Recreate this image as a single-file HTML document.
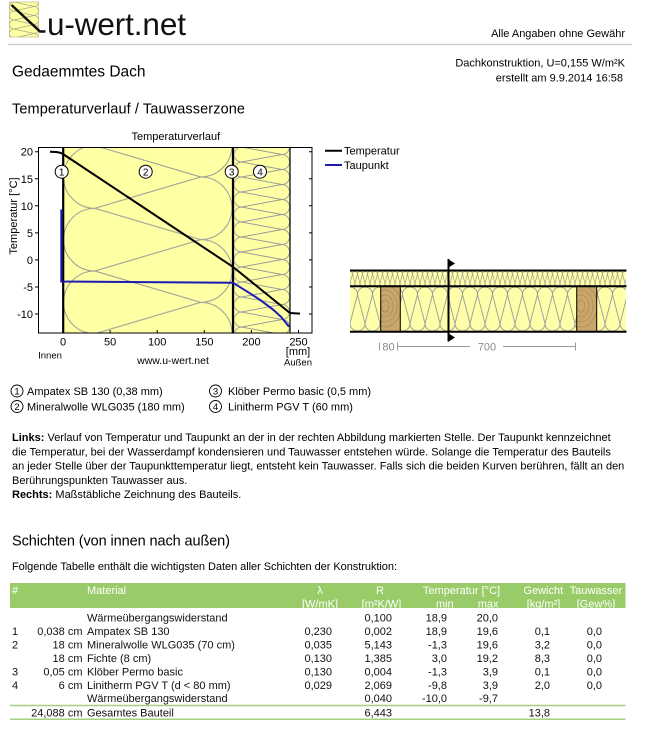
<!DOCTYPE html>
<html><head><meta charset="utf-8"><style>
html,body{margin:0;padding:0;background:#fff;}
svg{display:block;}
text{font-family:"Liberation Sans",Arial,sans-serif;}
</style></head><body>
<svg width="656" height="738" viewBox="0 0 656 738" xmlns="http://www.w3.org/2000/svg">
<defs>
<pattern id="pA" patternUnits="userSpaceOnUse" x="63.5" y="145.6" width="168.5" height="62.7">
<path d="M31.35,0 A31.35,31.35 0 0 0 31.35,62.7 M137.15,-31.35 A31.35,31.35 0 0 1 137.15,31.35 M137.15,31.35 A31.35,31.35 0 0 1 137.15,94.05 M31.35,0 L137.15,31.35 M31.35,62.7 L137.15,31.35" fill="none" stroke="#9a9a9a" stroke-width="1"/>
</pattern>
<pattern id="pB" patternUnits="userSpaceOnUse" x="234.2" y="147" width="55.3" height="15">
<path d="M7.5,0 A7.5,7.5 0 0 0 7.5,15 M47.8,-7.5 A7.5,7.5 0 0 1 47.8,7.5 M47.8,7.5 A7.5,7.5 0 0 1 47.8,22.5 M7.5,0 L47.8,7.5 M7.5,15 L47.8,7.5" fill="none" stroke="#9a9a9a" stroke-width="0.9"/>
</pattern>
<pattern id="pC" patternUnits="userSpaceOnUse" x="350" y="287" width="15" height="44">
<path d="M0,36.5 A7.5,7.5 0 0 0 15,36.5 M-7.5,7.5 A7.5,7.5 0 0 1 7.5,7.5 M7.5,7.5 A7.5,7.5 0 0 1 22.5,7.5 M0,36.5 L7.5,7.5 M15,36.5 L7.5,7.5" fill="none" stroke="#999" stroke-width="0.9"/>
</pattern>
<pattern id="pD" patternUnits="userSpaceOnUse" x="350" y="271.5" width="5" height="14.5">
<path d="M0,12 A2.5,2.5 0 0 0 5,12 M-2.5,2.5 A2.5,2.5 0 0 1 2.5,2.5 M2.5,2.5 A2.5,2.5 0 0 1 7.5,2.5 M0,12 L2.5,2.5 M5,12 L2.5,2.5" fill="none" stroke="#a0a090" stroke-width="0.7"/>
</pattern>
<pattern id="pI" patternUnits="userSpaceOnUse" x="9.5" y="2" width="29" height="9">
<path d="M4.5,0 A4.5,4.5 0 0 0 4.5,9 M24.5,-4.5 A4.5,4.5 0 0 1 24.5,4.5 M24.5,4.5 A4.5,4.5 0 0 1 24.5,13.5 M4.5,0 L24.5,4.5 M4.5,9 L24.5,4.5" fill="none" stroke="#a8a890" stroke-width="0.7"/>
</pattern>
<clipPath id="cw1"><rect x="380.7" y="287" width="19.6" height="44"/></clipPath>
<clipPath id="cw2"><rect x="576.7" y="287" width="20" height="44"/></clipPath>
</defs>

<!-- Header -->
<rect x="9.5" y="2" width="29" height="35" fill="#FFFFA4" stroke="#c8c890" stroke-width="0.8"/>
<rect x="9.5" y="2" width="29" height="35" fill="url(#pI)"/>
<path d="M11.5,5 L40,31.5 L45.5,31.5" fill="none" stroke="#111" stroke-width="2.5"/>
<text x="47" y="35" font-size="31.5" fill="#111" textLength="139">u-wert.net</text>
<text x="625" y="37" font-size="11" text-anchor="end">Alle Angaben ohne Gewähr</text>
<line x1="8" y1="44.5" x2="632" y2="44.5" stroke="#cfcfcf" stroke-width="1.5"/>
<text x="12" y="76.5" font-size="15.5">Gedaemmtes Dach</text>
<text x="625" y="66.5" font-size="11" text-anchor="end">Dachkonstruktion, U=0,155 W/m²K</text>
<text x="623" y="81.5" font-size="11" text-anchor="end">erstellt am 9.9.2014 16:58</text>
<text x="12" y="113.5" font-size="14.5" textLength="233">Temperaturverlauf / Tauwasserzone</text>

<!-- Chart -->
<text x="175.8" y="140" font-size="11" text-anchor="middle">Temperaturverlauf</text>
<rect x="63" y="147.5" width="227" height="185.5" fill="#FFFFA4"/>
<rect x="63.5" y="147.5" width="168.5" height="185.5" fill="url(#pA)"/>
<rect x="234.2" y="147.5" width="55.3" height="185.5" fill="url(#pB)"/>
<line x1="63.2" y1="147.5" x2="63.2" y2="333" stroke="#000" stroke-width="2.2"/>
<line x1="233" y1="147.5" x2="233" y2="333" stroke="#000" stroke-width="2.2"/>
<line x1="290" y1="147.5" x2="290" y2="333" stroke="#000" stroke-width="1.2"/>
<rect x="38.5" y="147.5" width="273.5" height="185.5" fill="none" stroke="#000" stroke-width="1"/>
<!-- ticks -->
<g stroke="#000" stroke-width="1">
<path d="M35,151.7H38.5M35,178.75H38.5M35,205.8H38.5M35,232.85H38.5M35,259.9H38.5M35,286.95H38.5M35,314H38.5"/>
<path d="M309,151.7H312M309,178.75H312M309,205.8H312M309,232.85H312M309,259.9H312M309,286.95H312M309,314H312"/>
<path d="M110.1,330V333M157.2,330V333M204.3,330V333M251.4,330V333M298.5,330V333"/>
</g>
<g font-size="11" text-anchor="end">
<text x="33" y="155.7">20</text>
<text x="33" y="182.75">15</text>
<text x="33" y="209.8">10</text>
<text x="33" y="236.85">5</text>
<text x="33" y="263.9">0</text>
<text x="33" y="290.95">-5</text>
<text x="33" y="318">-10</text>
</g>
<text transform="translate(17,216) rotate(-90)" font-size="11" text-anchor="middle">Temperatur [°C]</text>
<g font-size="11" text-anchor="middle">
<text x="63" y="345.5">0</text>
<text x="110.1" y="345.5">50</text>
<text x="157.2" y="345.5">100</text>
<text x="204.3" y="345.5">150</text>
<text x="251.4" y="345.5">200</text>
<text x="298.5" y="345.5">250</text>
<text x="298" y="355">[mm]</text>
</g>
<text x="298" y="365.5" font-size="9.5" text-anchor="middle">Außen</text>
<text x="50" y="358.5" font-size="9.5" text-anchor="middle">Innen</text>
<text x="173" y="364" font-size="10.5" text-anchor="middle">www.u-wert.net</text>
<!-- curves -->
<path d="M61.3,209.5 L61.3,281.5 L233,282.7 L246.7,291.3 L260,299.8 L273.3,309.8 L281,316.8 L289,326.7" fill="none" stroke="#1c1cb4" stroke-width="2"/>
<path d="M50,151.7 L56,152 Q61,152.6 63,154 L233,266.9 L290,313 L300,313.6" fill="none" stroke="#000" stroke-width="2"/>
<!-- layer labels -->
<g fill="#fff" stroke="#000" stroke-width="1">
<circle cx="61.7" cy="171.7" r="6.5"/>
<circle cx="145.7" cy="171.7" r="6.5"/>
<circle cx="231.7" cy="171.7" r="6.5"/>
<circle cx="260" cy="171.7" r="6.5"/>
</g>
<g font-size="10" text-anchor="middle">
<text x="61.7" y="175.3">1</text>
<text x="145.7" y="175.3">2</text>
<text x="231.7" y="175.3">3</text>
<text x="260" y="175.3">4</text>
</g>
<!-- legend -->
<line x1="325" y1="150.7" x2="342" y2="150.7" stroke="#000" stroke-width="2"/>
<line x1="325" y1="165" x2="342" y2="165" stroke="#1c1cb4" stroke-width="2"/>
<text x="344" y="154.7" font-size="11">Temperatur</text>
<text x="344" y="169" font-size="11">Taupunkt</text>

<!-- Right drawing -->
<rect x="350" y="271" width="276" height="15" fill="#FFFFAA"/>
<rect x="350" y="271.5" width="276" height="14.5" fill="url(#pD)"/>
<rect x="350" y="287" width="276" height="44" fill="#FFFFAA"/>
<rect x="350" y="287" width="276" height="44" fill="url(#pC)"/>
<rect x="380.7" y="287" width="19.6" height="44" fill="#C9A66B"/>
<rect x="576.7" y="287" width="20" height="44" fill="#C9A66B"/>
<g fill="none" stroke="#B18C52" stroke-width="0.8" clip-path="url(#cw1)">
<ellipse cx="385" cy="306" rx="4" ry="6"/><ellipse cx="385" cy="306" rx="8" ry="11"/><ellipse cx="385" cy="306" rx="12" ry="16"/><ellipse cx="385" cy="306" rx="16" ry="21"/>
</g>
<g fill="none" stroke="#B18C52" stroke-width="0.8" clip-path="url(#cw2)">
<ellipse cx="581" cy="306" rx="4" ry="6"/><ellipse cx="581" cy="306" rx="8" ry="11"/><ellipse cx="581" cy="306" rx="12" ry="16"/><ellipse cx="581" cy="306" rx="16" ry="21"/>
</g>
<g stroke="#000" stroke-width="1">
<line x1="380.7" y1="287" x2="380.7" y2="331"/><line x1="400.3" y1="287" x2="400.3" y2="331"/>
<line x1="576.7" y1="287" x2="576.7" y2="331"/><line x1="596.7" y1="287" x2="596.7" y2="331"/>
</g>
<g stroke="#000" stroke-width="2">
<line x1="350" y1="270.5" x2="626.5" y2="270.5"/>
<line x1="350" y1="286.3" x2="626.5" y2="286.3"/>
<line x1="350" y1="331.8" x2="626.5" y2="331.8"/>
<line x1="448.5" y1="259" x2="448.5" y2="341.5"/>
</g>
<path d="M449.5,260 L455,263.5 L449.5,267 Z M449.5,334 L455,337.5 L449.5,341 Z" fill="#000"/>
<g stroke="#999" stroke-width="1">
<line x1="379.5" y1="342.5" x2="379.5" y2="350.5"/>
<line x1="397.5" y1="342.5" x2="397.5" y2="350.5"/>
<line x1="397.5" y1="346.5" x2="470" y2="346.5"/>
<line x1="503" y1="346.5" x2="575.5" y2="346.5"/>
<line x1="575.5" y1="342.5" x2="575.5" y2="350.5"/>
</g>
<text x="388.5" y="350.5" font-size="11" fill="#8a8a8a" text-anchor="middle">80</text>
<text x="487" y="350.5" font-size="11" fill="#8a8a8a" text-anchor="middle">700</text>

<!-- numbered legend -->
<g fill="none" stroke="#000" stroke-width="0.9">
<circle cx="17" cy="391" r="6"/><circle cx="17" cy="406.5" r="6"/>
<circle cx="215.5" cy="391" r="6"/><circle cx="215.5" cy="406.5" r="6"/>
</g>
<g font-size="9.5" text-anchor="middle">
<text x="17" y="394.4">1</text><text x="17" y="409.9">2</text>
<text x="215.5" y="394.4">3</text><text x="215.5" y="409.9">4</text>
</g>
<g font-size="11">
<text x="27" y="395">Ampatex SB 130 (0,38 mm)</text>
<text x="27" y="410.5">Mineralwolle WLG035 (180 mm)</text>
<text x="228" y="395">Klöber Permo basic (0,5 mm)</text>
<text x="228" y="410.5">Linitherm PGV T (60 mm)</text>
</g>

<!-- paragraph -->
<g font-size="11">
<text x="12" y="441"><tspan font-weight="bold">Links:</tspan> Verlauf von Temperatur und Taupunkt an der in der rechten Abbildung markierten Stelle. Der Taupunkt kennzeichnet</text>
<text x="12" y="455.3">die Temperatur, bei der Wasserdampf kondensieren und Tauwasser entstehen würde. Solange die Temperatur des Bauteils</text>
<text x="12" y="469.6">an jeder Stelle über der Taupunkttemperatur liegt, entsteht kein Tauwasser. Falls sich die beiden Kurven berühren, fällt an den</text>
<text x="12" y="483.9">Berührungspunkten Tauwasser aus.</text>
<text x="12" y="498.2"><tspan font-weight="bold">Rechts:</tspan> Maßstäbliche Zeichnung des Bauteils.</text>
</g>

<!-- Schichten -->
<text x="12" y="545.5" font-size="14.5" textLength="218">Schichten (von innen nach außen)</text>
<text x="12" y="570" font-size="11" textLength="385">Folgende Tabelle enthält die wichtigsten Daten aller Schichten der Konstruktion:</text>

<rect x="10" y="583" width="615.5" height="25" fill="#9ACB69"/>
<g font-size="11" fill="#fff">
<text x="12" y="594">#</text>
<text x="87" y="594">Material</text>
<text x="436" y="607.3">min</text>
<g text-anchor="middle">
<text x="320" y="594">λ</text>
<text x="380" y="594">R</text>
<text x="461.5" y="594">Temperatur [°C]</text>
<text x="543.3" y="594">Gewicht</text>
<text x="596" y="594">Tauwasser</text>
<text x="320" y="607.3">[W/mK]</text>
<text x="381.5" y="607.3">[m²K/W]</text>
<text x="543.5" y="607.3">[kg/m²]</text>
<text x="596" y="607.3">[Gew%]</text>
</g>
<text x="498.5" y="607.3" text-anchor="end">max</text>
</g>

<g font-size="11" fill="#111">
<text x="12" y="634.9">1</text>
<text x="12" y="648.4">2</text>
<text x="12" y="675.3">3</text>
<text x="12" y="688.8">4</text>
<text x="87" y="621.5">Wärmeübergangswiderstand</text>
<text x="87" y="634.9">Ampatex SB 130</text>
<text x="87" y="648.4">Mineralwolle WLG035 (70 cm)</text>
<text x="87" y="661.9">Fichte (8 cm)</text>
<text x="87" y="675.3">Klöber Permo basic</text>
<text x="87" y="688.8">Linitherm PGV T (d &lt; 80 mm)</text>
<text x="87" y="702.2">Wärmeübergangswiderstand</text>
<text x="87" y="716.5">Gesamtes Bauteil</text>
<g text-anchor="end">
<text x="82.5" y="634.9">0,038 cm</text>
<text x="82.5" y="648.4">18 cm</text>
<text x="82.5" y="661.9">18 cm</text>
<text x="82.5" y="675.3">0,05 cm</text>
<text x="82.5" y="688.8">6 cm</text>
<text x="82.5" y="716.5">24,088 cm</text>
<text x="332" y="634.9">0,230</text>
<text x="332" y="648.4">0,035</text>
<text x="332" y="661.9">0,130</text>
<text x="332" y="675.3">0,130</text>
<text x="332" y="688.8">0,029</text>
<text x="392" y="621.5">0,100</text>
<text x="392" y="634.9">0,002</text>
<text x="392" y="648.4">5,143</text>
<text x="392" y="661.9">1,385</text>
<text x="392" y="675.3">0,004</text>
<text x="392" y="688.8">2,069</text>
<text x="392" y="702.2">0,040</text>
<text x="392" y="716.5">6,443</text>
<text x="447" y="621.5">18,9</text>
<text x="447" y="634.9">18,9</text>
<text x="447" y="648.4">-1,3</text>
<text x="447" y="661.9">3,0</text>
<text x="447" y="675.3">-1,3</text>
<text x="447" y="688.8">-9,8</text>
<text x="447" y="702.2">-10,0</text>
<text x="498" y="621.5">20,0</text>
<text x="498" y="634.9">19,6</text>
<text x="498" y="648.4">19,6</text>
<text x="498" y="661.9">19,2</text>
<text x="498" y="675.3">3,9</text>
<text x="498" y="688.8">3,9</text>
<text x="498" y="702.2">-9,7</text>
<text x="550" y="634.9">0,1</text>
<text x="550" y="648.4">3,2</text>
<text x="550" y="661.9">8,3</text>
<text x="550" y="675.3">0,1</text>
<text x="550" y="688.8">2,0</text>
<text x="550" y="716.5">13,8</text>
<text x="602" y="634.9">0,0</text>
<text x="602" y="648.4">0,0</text>
<text x="602" y="661.9">0,0</text>
<text x="602" y="675.3">0,0</text>
<text x="602" y="688.8">0,0</text>
</g>
</g>
<line x1="10" y1="705.5" x2="625.5" y2="705.5" stroke="#A6D07E" stroke-width="1.5"/>
<line x1="10" y1="719.3" x2="625.5" y2="719.3" stroke="#A6D07E" stroke-width="1.5"/>
</svg>
</body></html>
